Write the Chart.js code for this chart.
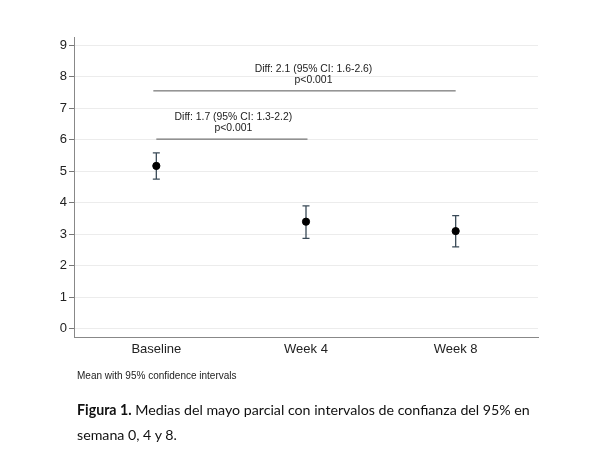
<!DOCTYPE html>
<html>
<head>
<meta charset="utf-8">
<script src="https://cdn.jsdelivr.net/npm/chart.js@4.4.1/dist/chart.umd.min.js"></script>
<style>
  html, body { margin: 0; padding: 0; background: #fff; }
  #wrap { position: absolute; left: 0; top: 0; width: 605px; height: 454px; }
  #note { position: absolute; left: 77px; top: 370px; font: 10px "Liberation Sans", Arial, sans-serif; color: #222; white-space: nowrap; }
  #cap { position: absolute; left: 77px; top: 397px; font-family: Lato, "Open Sans", sans-serif; font-size: 16px; line-height: 25px; color: #111; white-space: nowrap; }
</style>
</head>
<body>
<div id="wrap"><canvas id="c"></canvas></div>
<div id="note">Mean with 95% confidence intervals</div>
<div id="cap"><span id="l1"><b>Figura 1.</b> Medias del mayo parcial con intervalos de confianza del 95% en</span><br>semana 0, 4 y 8.</div>
<script>
// ---- data ----
const categories = ['Baseline', 'Week 4', 'Week 8'];
const means = [5.17, 3.40, 3.10];
const lower = [4.75, 2.87, 2.60];
const upper = [5.58, 3.90, 3.59];
const yTicks = [0, 1, 2, 3, 4, 5, 6, 7, 8, 9];
// comparison brackets
const cmpFrom = [-0.02, 0];
const cmpTo = [2, 1.01];
const cmpY = [7.55, 6.02];
const cmpLabelX = [1.05, 0.515];
const cmpDiff = ['Diff: 2.1 (95% CI: 1.6-2.6)', 'Diff: 1.7 (95% CI: 1.3-2.2)'];
const cmpP = ['p<0.001', 'p<0.001'];

// fit caption width
(function(){
  const l1 = document.getElementById('l1');
  const cap = document.getElementById('cap');
  const target = 453;
  const w = l1.getBoundingClientRect().width;
  cap.style.fontSize = (16 * target / w).toFixed(2) + 'px';
})();

const meanData = means.map((m, i) => ({ x: i, y: m }));
const bracketSets = cmpFrom.map((f, k) => ({
  type: 'line',
  data: [{ x: cmpFrom[k], y: cmpY[k] }, { x: cmpTo[k], y: cmpY[k] }],
  borderColor: '#555',
  borderWidth: 1,
  pointRadius: 0,
  showLine: true,
  fill: false
}));

const errorBars = {
  id: 'errorBars',
  beforeDatasetsDraw(chart) {
    const { ctx, scales: { x, y } } = chart;
    ctx.save();
    ctx.strokeStyle = '#3a4a57';
    ctx.lineWidth = 1.3;
    const cap = 3.5;
    for (let i = 0; i < means.length; i++) {
      const px = x.getPixelForValue(i);
      const pl = y.getPixelForValue(lower[i]);
      const pu = y.getPixelForValue(upper[i]);
      ctx.beginPath();
      ctx.moveTo(px, pl); ctx.lineTo(px, pu);
      ctx.moveTo(px - cap, pl); ctx.lineTo(px + cap, pl);
      ctx.moveTo(px - cap, pu); ctx.lineTo(px + cap, pu);
      ctx.stroke();
    }
    ctx.restore();
  }
};

const labels = {
  id: 'cmpLabels',
  afterDatasetsDraw(chart) {
    const { ctx, scales: { x, y } } = chart;
    ctx.save();
    ctx.fillStyle = '#222';
    ctx.font = '10.4px "Liberation Sans", Arial, sans-serif';
    ctx.textAlign = 'center';
    ctx.textBaseline = 'middle';
    for (let k = 0; k < cmpY.length; k++) {
      const px = x.getPixelForValue(cmpLabelX[k]);
      const py = y.getPixelForValue(cmpY[k]);
      ctx.fillText(cmpDiff[k], px, py - 22);
      ctx.fillText(cmpP[k], px, py - 11);
    }
    ctx.restore();
  }
};

new Chart(document.getElementById('c'), {
  type: 'scatter',
  data: {
    datasets: [
      {
        data: meanData,
        backgroundColor: '#000',
        borderColor: '#000',
        pointRadius: 3.6,
        pointHoverRadius: 3.6
      },
      ...bracketSets
    ]
  },
  options: {
    responsive: true,
    maintainAspectRatio: false,
    animation: false,
    events: [],
    layout: { padding: { top: 37, right: 67, bottom: 0, left: 0 } },
    plugins: { legend: { display: false }, tooltip: { enabled: false } },
    scales: {
      x: {
        type: 'linear',
        min: -0.55,
        max: 2.55,
        afterBuildTicks: (s) => { s.ticks = categories.map((c, i) => ({ value: i })); },
        afterFit: (s) => { s.height = 117; },
        grid: { display: false, drawTicks: false },
        border: { color: '#888', width: 1 },
        ticks: {
          padding: 5,
          color: '#222',
          font: { family: '"Liberation Sans", Arial, sans-serif', size: 13 },
          callback: (v) => categories[v] ?? ''
        }
      },
      y: {
        type: 'linear',
        min: -0.26,
        max: 9.26,
        afterBuildTicks: (s) => { s.ticks = yTicks.map(v => ({ value: v })); },
        afterFit: (s) => { s.width = 74; },
        grid: { color: '#ececec', tickColor: '#777', tickLength: 5, lineWidth: 1 },
        border: { color: '#888', width: 1 },
        ticks: {
          padding: 2,
          color: '#222',
          font: { family: '"Liberation Sans", Arial, sans-serif', size: 13 }
        }
      }
    }
  },
  plugins: [errorBars, labels]
});
</script>
</body>
</html>
